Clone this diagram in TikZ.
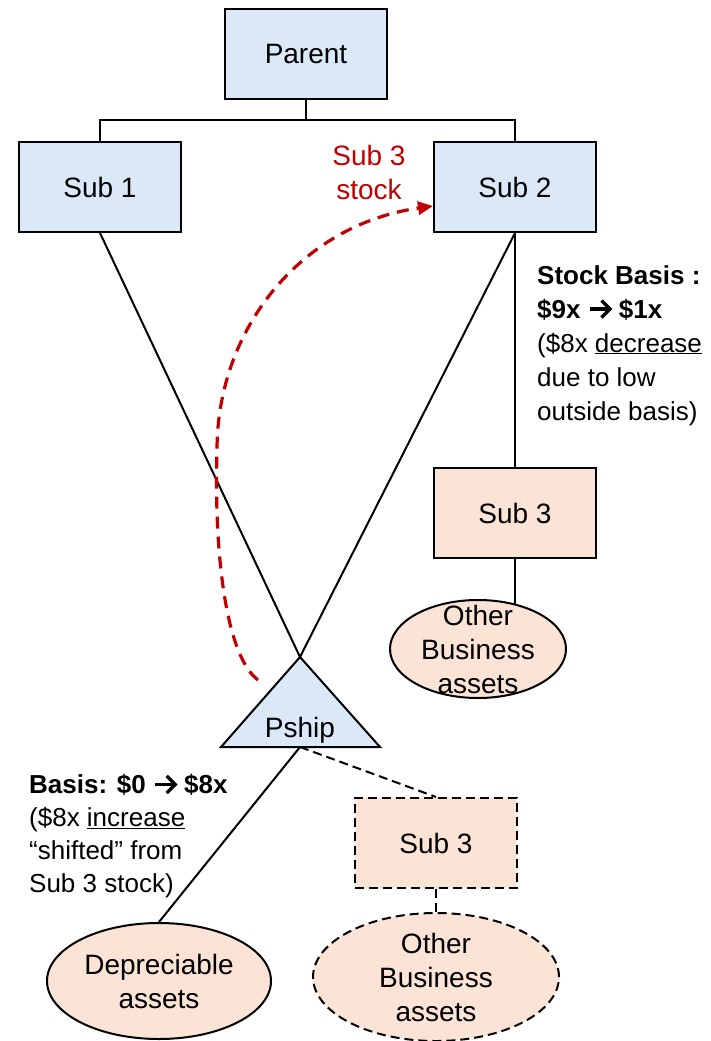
\documentclass[tikz,border=0pt]{standalone}
\usepackage{fontspec}
\setmainfont{Liberation Sans}
\usetikzlibrary{arrows.meta,shapes.geometric,backgrounds}
\definecolor{boxblue}{RGB}{218,232,247}
\definecolor{boxpeach}{RGB}{251,227,214}
\definecolor{flowred}{RGB}{192,0,0}
% thick inline arrow used in the basis notes
\newcommand{\heavyarrow}{\tikz[baseline=0pt]{%
  \draw[line width=3.4pt, line cap=butt] (0pt,9pt) -- (19pt,9pt);
  \draw[line width=3.4pt, line join=miter, line cap=butt] (12pt,17.5pt) -- (20.5pt,9pt) -- (12pt,0.5pt);}}

\begin{document}
\begin{tikzpicture}[x=1pt,y=-1pt,
  every node/.style={inner sep=0pt, font=\fontsize{28}{34}\selectfont},
  entity/.style={draw, line width=2pt, minimum width=162pt, minimum height=90pt},
  bluebox/.style={entity, fill=boxblue},
  peachbox/.style={entity, fill=boxpeach},
  asset/.style={ellipse, draw, line width=2pt, fill=boxpeach},
  dashedshape/.style={dash pattern=on 9pt off 5pt},
  link/.style={line width=2pt},
  dashedlink/.style={line width=2pt, dash pattern=on 9pt off 5pt},
  flow/.style={line width=3.2pt, flowred, dash pattern=on 12pt off 8pt,
               -{Triangle[length=15pt,width=13pt]}},
  note/.style={align=left, anchor=north west},
]
\useasboundingbox (0,0) rectangle (710,1041);

% ownership chain
\node[bluebox] (parent) at (306,54) {Parent};
\node[bluebox] (sub1) at (100,187) {Sub 1};
\node[bluebox] (sub2) at (515,187) {Sub 2};
\node[peachbox] (sub3) at (515,513) {Sub 3};
\node[asset, minimum width=176pt, minimum height=98pt] (oba) at (478,649) {};
\node[align=center] (obatext) at (oba) {Other\\Business\\assets};

% partnership triangle
\coordinate (apex) at (300,657);
\coordinate (baseL) at (221,747);
\coordinate (baseR) at (380,747);
\coordinate (basemid) at (300,747);
\draw[link, fill=boxblue, line join=miter] (apex) -- (baseR) -- (baseL) -- cycle;
\node[anchor=base] (pship) at (300,737) {Pship};

% partnership assets
\node[asset, minimum width=224pt, minimum height=116pt] (dep) at (159,981) {};
\node[align=center] (deptext) at (dep) {Depreciable\\assets};
\node[peachbox, dashedshape] (sub3b) at (436,843) {Sub 3};
\node[asset, dashedshape, minimum width=246pt, minimum height=128pt] (obb) at (436,977) {};
\node[align=center] (obbtext) at (obb) {Other\\Business\\assets};

% connectors behind the shapes
\coordinate (bus) at (306,120);
\begin{pgfonlayer}{background}
  \draw[link] (parent.south) -- (bus);
  \draw[link] (sub1.north) |- (bus) -| (sub2.north);
  \draw[link] (sub2.south) -- (sub3.north);
  \draw[link] (sub3.south) -- (sub3.south |- oba.center);
  \draw[link] (sub1.south) -- (apex);
  \draw[link] (sub2.south) -- (apex);
  \draw[link] (basemid) -- (dep.north);
  \draw[dashedlink] (basemid) -- (sub3b.north);
  \draw[dashedlink] (sub3b.south) -- (obb.north);
\end{pgfonlayer}

% transfer of Sub 3 stock
\coordinate (flowstart) at (258,680);
\draw[flow] (flowstart) .. controls (225,655) and (214,550) .. (217,450)
  .. controls (217,330) and (300,225) .. ([yshift=-19pt]sub2.west);
\node[text=flowred, align=center] (stocklabel) at (369,172) {Sub 3\\stock};

% basis notes
\node[note, font=\fontsize{26}{34}\selectfont] (sub2note) at (537,265)
  {\textbf{Stock Basis :}\\\textbf{\$9x \heavyarrow{} \$1x}\\(\$8x \underline{decrease}\\due to low\\outside basis)};
\node[note, font=\fontsize{26}{33}\selectfont] (pshipnote) at (29,774)
  {\textbf{Basis: \$0 \heavyarrow{} \$8x}\\(\$8x \underline{increase}\\“shifted” from\\Sub 3 stock)};
\end{tikzpicture}
\end{document}
